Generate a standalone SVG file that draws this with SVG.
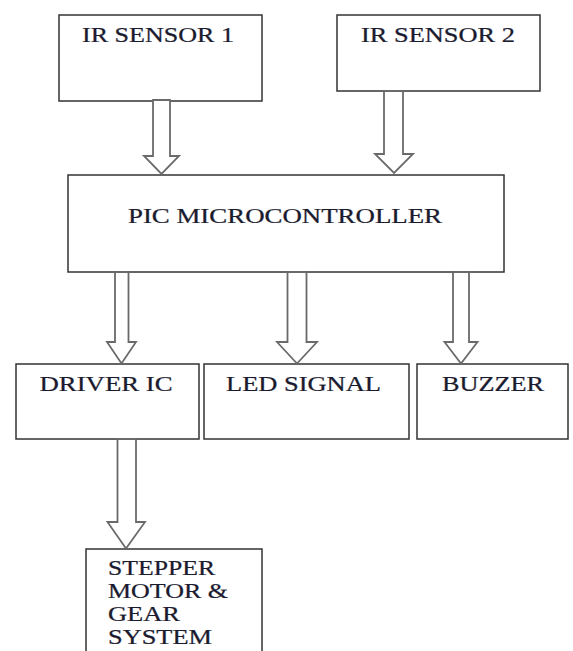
<svg xmlns="http://www.w3.org/2000/svg" width="573" height="651" viewBox="0 0 573 651">
<style>
.box{fill:#fff;stroke:#333;stroke-width:1.5}
.lbl{font-family:"Liberation Serif","Times New Roman",serif;font-size:20px;fill:#1b1b2f;stroke:#1b1b2f;stroke-width:0.25}
.arr{fill:#fff;stroke:#6a6a6a;stroke-width:1.8;stroke-linejoin:miter}
</style>
<rect width="573" height="651" fill="#fff"/>
<g id="ir1"><rect class="box" x="59" y="15" width="203" height="86"/><text class="lbl" transform="translate(82,42) scale(1.32,1)" textLength="115.2" lengthAdjust="spacingAndGlyphs">IR SENSOR 1</text></g>
<g id="ir2"><rect class="box" x="337" y="15" width="203" height="76"/><text class="lbl" transform="translate(361,42) scale(1.32,1)" textLength="116.7" lengthAdjust="spacingAndGlyphs">IR SENSOR 2</text></g>
<g id="pic"><rect class="box" x="68" y="175" width="436" height="97"/><text class="lbl" transform="translate(128,223) scale(1.32,1)" textLength="237.9" lengthAdjust="spacingAndGlyphs">PIC MICROCONTROLLER</text></g>
<g id="driver"><rect class="box" x="16" y="364" width="183" height="75"/><text class="lbl" transform="translate(39.5,391) scale(1.32,1)" textLength="100.8" lengthAdjust="spacingAndGlyphs">DRIVER IC</text></g>
<g id="led"><rect class="box" x="204" y="364" width="205" height="75"/><text class="lbl" transform="translate(226,391) scale(1.32,1)" textLength="117.4" lengthAdjust="spacingAndGlyphs">LED SIGNAL</text></g>
<g id="buzzer"><rect class="box" x="417" y="364" width="151" height="75"/><text class="lbl" transform="translate(442,391) scale(1.32,1)" textLength="77.3" lengthAdjust="spacingAndGlyphs">BUZZER</text></g>
<g id="stepper"><rect class="box" x="86" y="549" width="176" height="120"/>
<text class="lbl" transform="translate(108,574.5) scale(1.32,1)" textLength="81.1" lengthAdjust="spacingAndGlyphs">STEPPER</text>
<text class="lbl" transform="translate(108,598) scale(1.32,1)" textLength="90.9" lengthAdjust="spacingAndGlyphs">MOTOR &amp;</text>
<text class="lbl" transform="translate(108,621) scale(1.32,1)" textLength="54.5" lengthAdjust="spacingAndGlyphs">GEAR</text>
<text class="lbl" transform="translate(108,643.5) scale(1.32,1)" textLength="78.8" lengthAdjust="spacingAndGlyphs">SYSTEM</text></g>
<g id="connectors">
<polygon class="arr" points="153,100 153,156 144,156 161.5,174 179,156 170,156 170,100"/>
<polygon class="arr" points="384,91 384,154 375,154 394,173 413,154 403,154 403,91"/>
<polygon class="arr" points="115,272 115,342 107,342 121.5,363.5 136,342 128.5,342 128.5,272"/>
<polygon class="arr" points="287.5,272 287.5,342 277,342 297,363.5 317,342 306.5,342 306.5,272"/>
<polygon class="arr" points="453,272 453,342 444.5,342 461,363.5 477.5,342 469,342 469,272"/>
<polygon class="arr" points="117.5,439 117.5,522 107.5,522 126,548.5 145,522 136,522 136,439"/>
</g>
</svg>
